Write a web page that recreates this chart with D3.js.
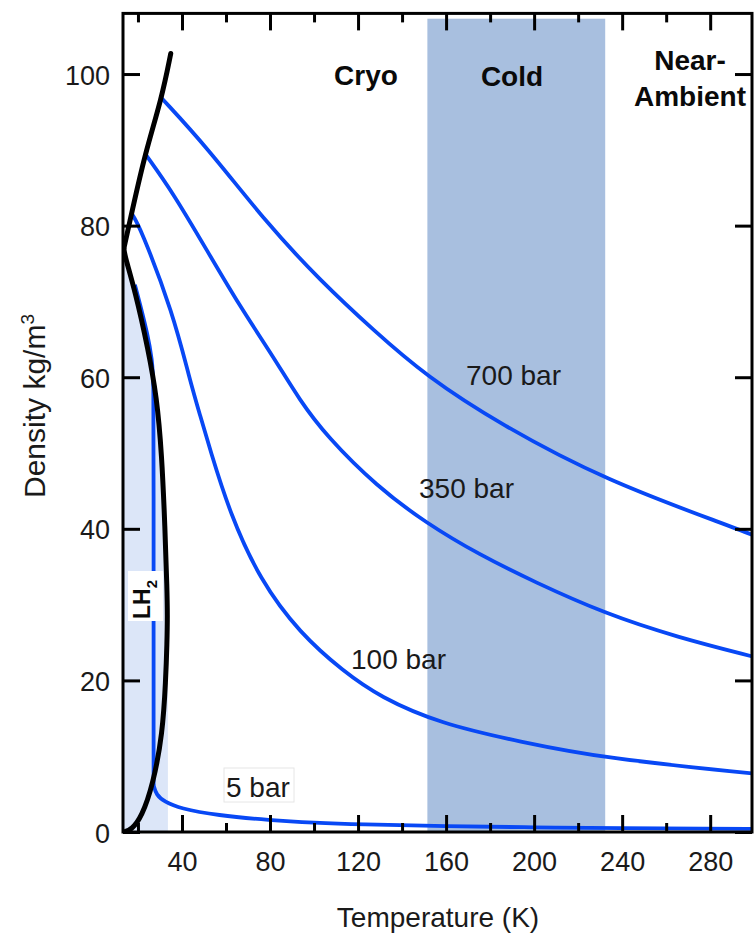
<!DOCTYPE html>
<html>
<head>
<meta charset="utf-8">
<script src="https://cdn.jsdelivr.net/npm/d3@7/dist/d3.min.js"></script>
<style>
    body { margin: 0; background: #fff; }
    text { font-family: "Liberation Sans", Arial, sans-serif; fill: #1a1a1a; }
    .bold { font-weight: bold; fill: #0a0a0a; }
    .axis text { font-size: 27px; }
    .axis line { stroke: #000; stroke-width: 3; }
    .axis path { display: none; }
</style>
</head>
<body>
<script>
//tick values for the axes
var tempTicks = [40, 80, 120, 160, 200, 240, 280];
var tempMinorTicks = [20, 60, 100, 140, 180, 220, 260];
var densityTicks = [0, 20, 40, 60, 80, 100];

//[temperature K, density kg/m3]
var meltingLine = [[13.6, 77], [17.1, 81.6], [23.2, 89.5], [30.8, 96.8], [34.9, 102.7]];
var liquidLine = [[13.6, 77], [14.1, 75.9], [18.6, 71.5], [24.7, 63.6], [28.5, 57.4],
    [30.8, 50], [32.3, 40], [33.2, 32], [33.4, 28.5]];
var vaporLine = [[33.4, 28.5], [33.2, 25], [32.6, 20], [31.2, 13], [26.8, 6.2],
    [21.7, 2], [17.1, 0.3], [13.4, 0]];

var bar700 = [[30.8, 96.8], [51.2, 90.4], [78.5, 80.3], [102.7, 72.8], [127, 66.2],
    [151.2, 60.1], [184.5, 53.8], [232.3, 46.4], [290.5, 40.2], [300, 39.1]];
var bar350 = [[23.2, 89.5], [36, 84.3], [51.2, 76.8], [66.4, 69.3], [81.5, 62.7],
    [93.6, 56.9], [105.8, 52.2], [128.5, 45.6], [151.2, 40.7], [175, 36.6], [200, 33],
    [232.3, 28.8], [265, 25.7], [300, 23.1]];
var bar100 = [[17.1, 81.6], [20.9, 79.9], [36, 68.4], [43.6, 59.6], [48.2, 55], [52.7, 50.5],
    [61.8, 42], [75.5, 33.2], [93.6, 26.2], [113.3, 21.2], [130, 17.8], [157.3, 14.3],
    [193.6, 11.9], [232.3, 9.7], [300, 7.7]];
//5 bar: compressed liquid + boiling, then gas
var bar5Liquid = [[18.6, 72.2], [21, 69.6], [24.4, 65.6], [26.4, 62.4], [27.1, 59.5],
    [27.1, 50], [27.1, 6.2]];
var bar5Gas = [[27.1, 6.2], [28.3, 4.9], [32, 4], [39.1, 3.1], [55.8, 2.2], [80, 1.55],
    [100, 1.22], [120, 1], [160, 0.76], [200, 0.61], [240, 0.51], [280, 0.43], [300, 0.4]];

//temperature range of the "Cold" band
var coldBand = [151.5, 232.3];

window.onload = function(){
    var w = 754, h = 934;
    var svg = d3.select("body")
        .append("svg")
        .attr("width", w)
        .attr("height", h);

    /**** scales ****/
    var x = d3.scaleLinear()
        .domain([13.2, 299])
        .range([123, 752]);
    var y = d3.scaleLinear()
        .domain([0, 108])
        .range([832, 13.4]);

    //clip everything to the plot box
    svg.append("clipPath")
        .attr("id", "plotClip")
        .append("rect")
        .attr("x", x(13.2))
        .attr("y", y(108))
        .attr("width", x(299) - x(13.2))
        .attr("height", y(0) - y(108));

    var plot = svg.append("g")
        .attr("clip-path", "url(#plotClip)");

    /**** shaded regions ****/
    plot.append("rect")
        .attr("x", x(coldBand[0]))
        .attr("y", y(107.3))
        .attr("width", x(coldBand[1]) - x(coldBand[0]))
        .attr("height", y(0) - y(107.3))
        .style("fill", "#a8bfdf");

    //light area under the liquid line (LH2)
    var lh2Area = [[13.2, 77]].concat(liquidLine, [[33.6, 28.5], [33.6, 0], [13.2, 0]]);
    plot.append("path")
        .datum(lh2Area)
        .attr("d", d3.line()
            .x(function(d){ return x(d[0]); })
            .y(function(d){ return y(d[1]); }))
        .style("fill", "#dce6f8");

    /**** curves ****/
    //b-spline smooths out the reading noise, end points stay exact
    var line = d3.line()
        .x(function(d){ return x(d[0]); })
        .y(function(d){ return y(d[1]); })
        .curve(d3.curveBasis);

    plot.selectAll(".isobar")
        .data([bar700, bar350, bar100, bar5Liquid, bar5Gas])
        .enter()
        .append("path")
        .attr("class", "isobar")
        .attr("d", line)
        .style("fill", "none")
        .style("stroke", "#0848f5")
        .style("stroke-width", 3.8)
        .style("stroke-linejoin", "round");

    plot.selectAll(".phase")
        .data([meltingLine, liquidLine.concat(vaporLine.slice(1))])
        .enter()
        .append("path")
        .attr("class", "phase")
        .attr("d", line)
        .style("fill", "none")
        .style("stroke", "#000")
        .style("stroke-width", 5)
        .style("stroke-linecap", "round")
        .style("stroke-linejoin", "round");

    /**** axes, ticks point inward ****/
    svg.append("g")
        .attr("class", "axis")
        .attr("transform", "translate(0," + y(0) + ")")
        .call(d3.axisBottom(x).tickValues(tempTicks).tickSizeInner(-17).tickSizeOuter(0).tickPadding(20));
    svg.append("g")
        .attr("class", "axis")
        .attr("transform", "translate(0," + y(0) + ")")
        .call(d3.axisBottom(x).tickValues(tempMinorTicks).tickSizeInner(-9).tickSizeOuter(0).tickFormat(""));
    svg.append("g")
        .attr("class", "axis")
        .attr("transform", "translate(0," + y(108) + ")")
        .call(d3.axisTop(x).tickValues(tempTicks).tickSizeInner(-17).tickSizeOuter(0).tickFormat(""));
    svg.append("g")
        .attr("class", "axis")
        .attr("transform", "translate(0," + y(108) + ")")
        .call(d3.axisTop(x).tickValues(tempMinorTicks).tickSizeInner(-9).tickSizeOuter(0).tickFormat(""));
    var leftAxis = svg.append("g")
        .attr("class", "axis")
        .attr("transform", "translate(" + x(13.2) + ",0)")
        .call(d3.axisLeft(y).tickValues(densityTicks).tickSizeInner(-17).tickSizeOuter(0).tickPadding(13));
    leftAxis.selectAll("text").attr("dy", "0.37em");
    svg.append("g")
        .attr("class", "axis")
        .attr("transform", "translate(" + x(299) + ",0)")
        .call(d3.axisRight(y).tickValues(densityTicks).tickSizeInner(-17).tickSizeOuter(0).tickFormat(""));

    //frame
    svg.append("rect")
        .attr("x", x(13.2))
        .attr("y", y(108))
        .attr("width", x(299) - x(13.2))
        .attr("height", y(0) - y(108))
        .style("fill", "none")
        .style("stroke", "#000")
        .style("stroke-width", 3);

    /**** text ****/
    svg.append("text")
        .attr("x", 438)
        .attr("y", 927)
        .attr("text-anchor", "middle")
        .style("font-size", "28px")
        .text("Temperature (K)");

    var yTitle = svg.append("text")
        .attr("transform", "translate(45,406) rotate(-90)")
        .attr("text-anchor", "middle")
        .style("font-size", "30px");
    yTitle.append("tspan").text("Density kg/m");
    yTitle.append("tspan").attr("dy", -11).style("font-size", "19px").text("3");

    //isobar labels
    var isoLabels = [
        {label: "700 bar", x: 466, y: 385},
        {label: "350 bar", x: 419, y: 498},
        {label: "100 bar", x: 351, y: 669}
    ];
    svg.selectAll(".isoLabel")
        .data(isoLabels)
        .enter()
        .append("text")
        .attr("class", "isoLabel")
        .attr("x", function(d){ return d.x; })
        .attr("y", function(d){ return d.y; })
        .style("font-size", "28px")
        .text(function(d){ return d.label; });

    //boxed 5 bar label
    svg.append("rect")
        .attr("x", 224)
        .attr("y", 768)
        .attr("width", 70)
        .attr("height", 34)
        .style("fill", "#fff")
        .style("stroke", "#e6e6e6");
    svg.append("text")
        .attr("x", 226)
        .attr("y", 797)
        .style("font-size", "28px")
        .text("5 bar");

    //boxed LH2 label, rotated
    var lh2 = svg.append("g")
        .attr("transform", "translate(150,619) rotate(-90)");
    lh2.append("rect")
        .attr("x", -2)
        .attr("y", -22)
        .attr("width", 50)
        .attr("height", 35)
        .style("fill", "#fff");
    var lh2Text = lh2.append("text")
        .attr("class", "bold")
        .style("font-size", "23px");
    lh2Text.append("tspan").text("LH");
    lh2Text.append("tspan").attr("dy", 7).style("font-size", "15px").text("2");

    //region labels
    var regions = [
        {label: "Cryo", x: 366, y: 85},
        {label: "Cold", x: 512, y: 86},
        {label: "Near-", x: 690, y: 70},
        {label: "Ambient", x: 690, y: 106}
    ];
    svg.selectAll(".region")
        .data(regions)
        .enter()
        .append("text")
        .attr("class", "bold region")
        .attr("x", function(d){ return d.x; })
        .attr("y", function(d){ return d.y; })
        .attr("text-anchor", "middle")
        .style("font-size", "28px")
        .text(function(d){ return d.label; });
};
</script>
</body>
</html>
